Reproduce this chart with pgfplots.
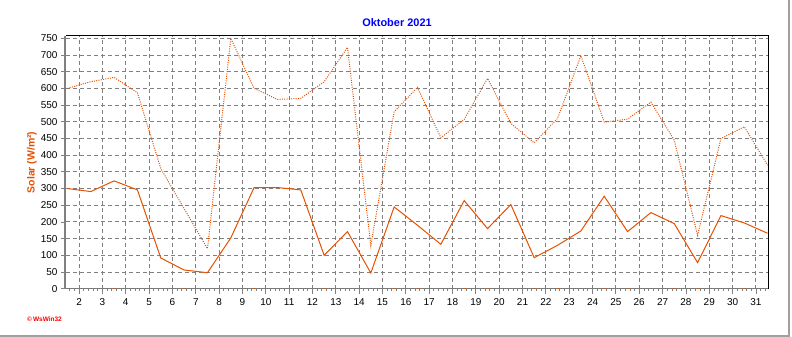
\documentclass[border=0pt]{standalone}
\usepackage{pgfplots}
\usepackage{pgfplotstable}
\pgfplotsset{compat=1.18}
\usepackage{fontspec}
\setmainfont{Liberation Sans}
\definecolor{solar}{RGB}{230,80,0}
\definecolor{gridgray}{RGB}{128,128,128}
\definecolor{titleblue}{RGB}{0,0,255}
\definecolor{framegray}{RGB}{160,160,160}

\pgfplotstableread{
day avg max min
1.5 300 600 0
2.5 291 620 0
3.5 323 633 0
4.5 296 587 0
5.5 92 360 0
6.5 56 240 0
7.5 48 120 0
8.5 152 750 0
9.5 303 600 0
10.5 303 567 0
11.5 296 570 0
12.5 100 620 0
13.5 171 723 0
14.5 47 130 0
15.5 245 530 0
16.5 190 603 0
17.5 133 452 0
18.5 264 507 0
19.5 180 630 0
20.5 252 495 0
21.5 93 437 0
22.5 130 510 0
23.5 173 698 0
24.5 277 499 0
25.5 171 508 0
26.5 228 559 0
27.5 195 445 0
28.5 78 160 0
29.5 219 450 0
30.5 197 485 0
31.5 166 370 0
}\solardata

\begin{document}
\begin{tikzpicture}
\path[use as bounding box] (0,0) rectangle (792bp,337bp);
\begin{axis}[
  at={(66bp,48.3bp)}, anchor=south west,
  scale only axis, width=702.3bp, height=252.7bp,
  xmin=1.44, xmax=31.53, ymin=0, ymax=757,
  xtick={2,...,31}, ytick={0,50,...,750},
  minor xtick={1.6,1.8,...,31.4},
  minor y tick num=2,
  grid=major,
  major grid style={gridgray, dash pattern=on 4bp off 3bp, line width=0.9bp},
  axis line style={draw=none},
  tick align=outside, tick pos=left,
  major tick length=5bp, minor tick length=2.5bp,
  tick style={gridgray, line width=0.8bp},
  /pgf/number format/assume math mode=true,
  tick label style={font=\fontsize{10}{12}\selectfont},
  xticklabel style={yshift=-1.5bp},
  ylabel={Solar (W/m²)},
  ylabel style={at={(axis description cs:-0.0484,0.5)}, anchor=center, text=solar, font=\bfseries\fontsize{10.5}{12}\selectfont},
  title={Oktober 2021},
  title style={at={(axis description cs:0.4713,1.031)}, anchor=center, text=titleblue, font=\bfseries\fontsize{11}{13}\selectfont},
  clip=false,
]
\draw[gridgray, line width=2.2bp] ([xshift=-1.2bp]rel axis cs:0,0) -- ([xshift=-1.2bp]rel axis cs:0,1);
\draw[gridgray, line width=1bp] (rel axis cs:0,0) -- (rel axis cs:1,0);
\draw[black, line width=1bp] (rel axis cs:0,1) -- (rel axis cs:1,1) -- (rel axis cs:1,0);
\addplot[solar, line width=1bp, sharp plot] table[x=day, y=avg] {\solardata};
\addplot[solar, line width=1bp, sharp plot, dash pattern=on 1bp off 1.3bp] table[x=day, y=max] {\solardata};
\addplot[solar, line width=1bp, sharp plot, dash pattern=on 1bp off 1bp] table[x=day, y=min] {\solardata};
\node[text=red, font=\bfseries\fontsize{6.5}{7}\selectfont] at (axis description cs:-0.0306,-0.12) {\textcopyright\,WsWin32};
\end{axis}
\draw[framegray, line width=1.5bp] (789bp,337bp) -- (789bp,1bp) -- (0bp,1bp);
\end{tikzpicture}
\end{document}
